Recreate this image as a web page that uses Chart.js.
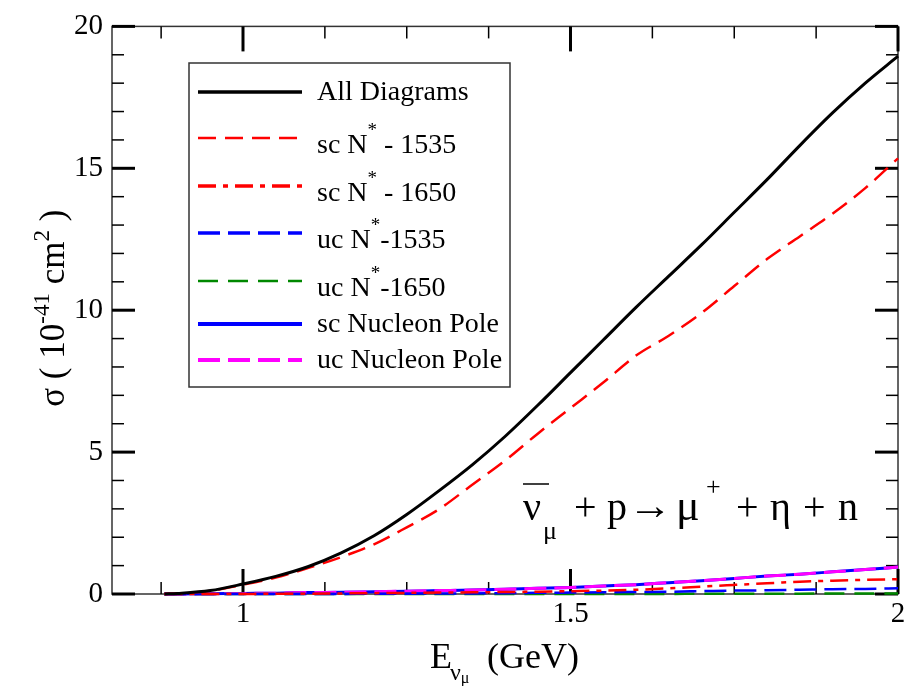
<!DOCTYPE html>
<html>
<head>
<meta charset="utf-8">
<title>Antineutrino eta production cross section</title>
<script src="https://cdn.jsdelivr.net/npm/chart.js@4.4.1/dist/chart.umd.min.js"></script>
<style>
  html, body { margin: 0; padding: 0; background: #fff; }
</style>
</head>
<body>
<canvas id="xsec" width="910" height="686"></canvas>
<script>
// beam energy E (GeV)
const energy = [0.88, 0.9, 0.95, 1.0, 1.05, 1.1, 1.15, 1.2, 1.25, 1.3, 1.35, 1.4,
  1.45, 1.5, 1.55, 1.6, 1.65, 1.7, 1.75, 1.8, 1.85, 1.9, 1.95, 2.0]

// sigma in 10^-41 cm^2
const allDiagrams = [0, 0.02, 0.12, 0.35, 0.62, 0.97, 1.45, 2.05, 2.8, 3.65, 4.55, 5.55,
  6.65, 7.8, 8.95, 10.1, 11.2, 12.3, 13.45, 14.6, 15.8, 16.95, 18.0, 18.95]
const scN1535 = [0, 0.02, 0.11, 0.33, 0.58, 0.92, 1.3, 1.75, 2.35, 3.0, 3.85, 4.7,
  5.65, 6.55, 7.45, 8.4, 9.1, 9.9, 10.85, 11.8, 12.6, 13.4, 14.3, 15.35]
const scN1650 = [0, 0, 0, 0, 0.01, 0.01, 0.02, 0.03, 0.04, 0.05, 0.06, 0.07,
  0.08, 0.1, 0.12, 0.15, 0.2, 0.26, 0.32, 0.38, 0.43, 0.47, 0.5, 0.52]
const ucN1535 = [0, 0, 0, 0, 0, 0, 0, 0.01, 0.01, 0.02, 0.02, 0.03,
  0.04, 0.05, 0.06, 0.07, 0.08, 0.1, 0.12, 0.13, 0.15, 0.17, 0.18, 0.2]
const ucN1650 = [0, 0, 0, 0, 0, 0, 0, 0, 0, 0, 0, 0,
  0, 0, 0, 0, 0, 0.01, 0.01, 0.01, 0.01, 0.02, 0.02, 0.02]
const scPole = [0, 0, 0.01, 0.02, 0.03, 0.05, 0.06, 0.08, 0.1, 0.12, 0.14, 0.17,
  0.2, 0.23, 0.28, 0.33, 0.4, 0.47, 0.55, 0.63, 0.7, 0.78, 0.86, 0.95]
const ucPole = [0, 0, 0.01, 0.02, 0.03, 0.05, 0.06, 0.08, 0.1, 0.12, 0.14, 0.17,
  0.2, 0.23, 0.28, 0.33, 0.4, 0.47, 0.55, 0.63, 0.7, 0.78, 0.86, 0.95]

const seriesLabels = ['All Diagrams', 'sc N* - 1535', 'sc N* - 1650', 'uc N*-1535',
  'uc N*-1650', 'sc Nucleon Pole', 'uc Nucleon Pole']

const xMajorTicks = [1, 1.5, 2]
const xTickLabels = ['1', '1.5', '2']
const yMajorTicks = [0, 5, 10, 15, 20]
const yTickLabels = ['0', '5', '10', '15', '20']

const SERIF = '"Liberation Serif", "Times New Roman", serif'

function pts(values) {
  return values.map((v, i) => ({ x: energy[i], y: v }))
}

function line(ctx, x1, y1, x2, y2) {
  ctx.beginPath()
  ctx.moveTo(x1, y1)
  ctx.lineTo(x2, y2)
  ctx.stroke()
}

// draws a run of [text, size, dy] pieces left to right, returns end x
function drawRuns(ctx, runs, x, y) {
  runs.forEach(([text, size, dy]) => {
    ctx.font = size + 'px ' + SERIF
    ctx.fillText(text, x, y + (dy || 0))
    x += ctx.measureText(text).width
  })
  return x
}

function runsWidth(ctx, runs) {
  let w = 0
  runs.forEach(([text, size]) => {
    ctx.font = size + 'px ' + SERIF
    w += ctx.measureText(text).width
  })
  return w
}

// frame plus inward ticks on all four sides
const frameTicks = {
  id: 'frameTicks',
  beforeDatasetsDraw(chart) {
    const { ctx, chartArea: a, scales: { x, y } } = chart
    ctx.save()
    ctx.strokeStyle = '#333'
    ctx.lineWidth = 1.5
    ctx.strokeRect(a.left, a.top, a.right - a.left, a.bottom - a.top)
    ctx.strokeStyle = '#000'
    for (let k = 7; k <= 16; k++) {
      const px = x.getPixelForValue(k * 0.125)
      const major = k % 4 === 0
      ctx.lineWidth = major ? 3 : 1.5
      const len = major ? 25 : 12
      line(ctx, px, a.bottom, px, a.bottom - len)
      line(ctx, px, a.top, px, a.top + len)
    }
    for (let k = 0; k <= 20; k++) {
      const py = y.getPixelForValue(k)
      const major = k % 5 === 0
      ctx.lineWidth = major ? 3 : 1.5
      const len = major ? 23 : 12
      line(ctx, a.left, py, a.left + len, py)
      line(ctx, a.right, py, a.right - len, py)
    }
    ctx.restore()
  }
}

// axis titles, reaction label and the boxed legend
const annotations = {
  id: 'annotations',
  afterDraw(chart) {
    const { ctx, chartArea: a } = chart
    ctx.save()
    ctx.fillStyle = '#000'
    ctx.textBaseline = 'alphabetic'
    ctx.textAlign = 'left'

    // y title, rotated
    const yRuns = [['σ ( 10', 35], ['-41', 23, -15], [' cm', 35], ['2', 23, -15], [' )', 35]]
    ctx.save()
    ctx.translate(64, (a.top + a.bottom) / 2 - 2)
    ctx.rotate(-Math.PI / 2)
    drawRuns(ctx, yRuns, -runsWidth(ctx, yRuns) / 2, 0)
    ctx.restore()

    // x title
    let xe = drawRuns(ctx, [['E', 36]], 430, 668)
    xe = drawRuns(ctx, [['ν', 24]], xe - 2, 680)
    drawRuns(ctx, [['μ', 16]], xe, 683)
    drawRuns(ctx, [['(GeV)', 36]], 487, 668)

    // reaction: nu-bar_mu + p -> mu+ + eta + n
    const ry = 520
    const big = 40, small = 26
    ctx.lineWidth = 1.5
    ctx.strokeStyle = '#000'
    line(ctx, 523, 484, 549, 484)
    drawRuns(ctx, [['ν', big]], 523, ry)
    drawRuns(ctx, [['μ', small]], 543, ry + 19)
    drawRuns(ctx, [['+', big]], 574, ry)
    drawRuns(ctx, [['p', big]], 607, ry)
    // long arrow squeezed to its drawn width
    ctx.save()
    ctx.font = big + 'px ' + SERIF
    const arrowW = ctx.measureText('→').width
    ctx.translate(628, ry - 1)
    ctx.scale(44 / arrowW, 1)
    ctx.fillText('→', 0, 0)
    ctx.restore()
    drawRuns(ctx, [['μ', big + 4]], 676, ry)
    drawRuns(ctx, [['+', small]], 706, ry - 25)
    drawRuns(ctx, [['+', big]], 736, ry)
    drawRuns(ctx, [['η', big]], 770, ry)
    drawRuns(ctx, [['+', big]], 803, ry)
    drawRuns(ctx, [['n', big]], 838, ry)

    // legend box
    const box = { left: 189, top: 63, right: 510, bottom: 387 }
    const rowY = [92, 138, 186, 233, 281, 324, 360]
    ctx.strokeStyle = '#333'
    ctx.lineWidth = 1.5
    ctx.strokeRect(box.left, box.top, box.right - box.left, box.bottom - box.top)
    chart.data.datasets.forEach((ds, i) => {
      const ly = rowY[i]
      ctx.save()
      ctx.strokeStyle = ds.borderColor
      ctx.lineWidth = ds.legendWidth
      ctx.setLineDash(ds.borderDash || [])
      line(ctx, 198, ly, 302, ly)
      ctx.restore()
      const label = ds.label
      const star = label.indexOf('*')
      if (star < 0) {
        drawRuns(ctx, [[label, 28]], 317, ly + 8)
      } else {
        drawRuns(ctx, [[label.slice(0, star), 28], ['*', 19, -17], [label.slice(star + 1), 28]], 317, ly + 15)
      }
    })
    ctx.restore()
  }
}

const styles = [
  { color: '#000000', width: 3, legendWidth: 3.5, dash: [] },
  { color: '#ff0000', width: 2.5, legendWidth: 2.5, dash: [18, 9] },
  { color: '#ff0000', width: 2.5, legendWidth: 3.5, dash: [18, 7, 5, 7] },
  { color: '#0000ff', width: 2.5, legendWidth: 3.5, dash: [22, 8] },
  { color: '#008800', width: 2.5, legendWidth: 2.5, dash: [20, 10] },
  { color: '#0000ff', width: 3, legendWidth: 4, dash: [] },
  { color: '#ff00ff', width: 3, legendWidth: 4, dash: [22, 8] }
]
const seriesValues = [allDiagrams, scN1535, scN1650, ucN1535, ucN1650, scPole, ucPole]
// draw order: black on top, magenta above the blue pole curve
const drawOrder = [0, 1, 2, 3, 4, 6, 5]

const datasets = seriesValues.map((vals, i) => ({
  label: seriesLabels[i],
  data: pts(vals),
  borderColor: styles[i].color,
  borderWidth: styles[i].width,
  borderDash: styles[i].dash,
  legendWidth: styles[i].legendWidth,
  pointRadius: 0,
  cubicInterpolationMode: 'monotone',
  fill: false,
  clip: false,
  order: drawOrder[i]
}))

new Chart(document.getElementById('xsec'), {
  type: 'line',
  data: { datasets },
  options: {
    responsive: false,
    animation: false,
    devicePixelRatio: 1,
    layout: { padding: { top: 23, right: 12, left: 0, bottom: 0 } },
    plugins: { legend: { display: false }, tooltip: { enabled: false } },
    scales: {
      x: {
        type: 'linear',
        min: 0.8,
        max: 2,
        afterBuildTicks: s => { s.ticks = xMajorTicks.map(v => ({ value: v })) },
        afterFit: s => { s.height = 92 },
        grid: { display: false, drawTicks: false },
        border: { display: false },
        ticks: {
          padding: 3,
          color: '#000',
          font: { family: SERIF, size: 29 },
          maxRotation: 0,
          callback: v => xTickLabels[xMajorTicks.indexOf(v)]
        }
      },
      y: {
        type: 'linear',
        min: 0,
        max: 20,
        afterBuildTicks: s => { s.ticks = yMajorTicks.map(v => ({ value: v })) },
        afterFit: s => { s.width = 112 },
        grid: { display: false, drawTicks: false },
        border: { display: false },
        ticks: {
          padding: 9,
          color: '#000',
          font: { family: SERIF, size: 29 },
          callback: v => yTickLabels[yMajorTicks.indexOf(v)]
        }
      }
    }
  },
  plugins: [frameTicks, annotations]
})
</script>
</body>
</html>
